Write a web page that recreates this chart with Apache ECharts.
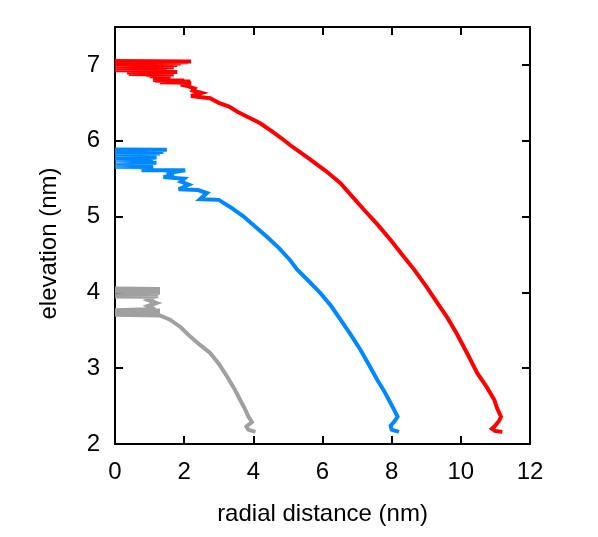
<!DOCTYPE html>
<html>
<head>
<meta charset="utf-8">
<script src="https://cdn.jsdelivr.net/npm/echarts@6/dist/echarts.min.js"></script>
<style>
html,body{margin:0;padding:0;background:#fff;}
#chart{width:598px;height:537px;}
</style>
</head>
<body>
<div id="chart"></div>
<script>
var xTicks = [0, 2, 4, 6, 8, 10, 12];
var yTicks = [2, 3, 4, 5, 6, 7];

var redCurve = [
[0,7.05],[2.2,7.045],[0,7.04],[2.1,7.035],[0,7.03],[1.9,7.02],[0,7.01],[1.8,7.0],[0,6.99],[1.6,6.985],
[0,6.98],[1.7,6.97],[0,6.96],[1.4,6.955],[0,6.95],[1.5,6.945],[0,6.94],[1.3,6.935],[0,6.93],[1.1,6.925],
[0.35,6.91],[1.8,6.905],[0.35,6.9],[1.6,6.89],[0.4,6.88],[1.7,6.875],[0.9,6.87],[1.5,6.86],[1.0,6.85],[1.6,6.84],
[1.1,6.82],[1.5,6.81],[1.1,6.80],[2.0,6.795],[1.15,6.79],[2.17,6.78],[1.3,6.77],[2.2,6.765],[1.9,6.74],[2.1,6.72],
[2.3,6.69],[2.25,6.66],[2.5,6.63],[2.2,6.59],[2.75,6.56],[3.0,6.50],[3.3,6.45],[3.55,6.38],[3.9,6.30],[4.2,6.23],
[4.55,6.12],[4.88,6.01],[5.07,5.94],[5.35,5.85],[5.65,5.75],[6.1,5.60],[6.52,5.44],[6.85,5.27],[7.2,5.09],[7.6,4.89],
[7.97,4.69],[8.3,4.50],[8.65,4.30],[9.0,4.08],[9.32,3.86],[9.62,3.66],[9.9,3.44],[10.2,3.18],[10.48,2.93],[10.75,2.75],
[10.97,2.58],[11.05,2.47],[11.16,2.36],[11.1,2.30],[10.97,2.23],[10.9,2.20],[11.0,2.17],[11.2,2.16]
];

var blueCurve = [
[0,5.885],[1.5,5.88],[0,5.875],[1.3,5.87],[0,5.865],[1.2,5.86],[0,5.855],[1.4,5.85],[0,5.845],[1.1,5.84],
[0,5.835],[1.3,5.83],[0,5.825],[1.0,5.82],[0,5.815],[1.1,5.81],[1.0,5.79],[1.2,5.78],[0.9,5.77],[0,5.765],
[1.05,5.76],[0,5.755],[1.1,5.75],[0,5.745],[1.0,5.74],[0,5.735],[1.1,5.73],[0,5.725],[0.95,5.72],[0,5.715],
[1.2,5.71],[0,5.705],[1.0,5.70],[0,5.695],[1.1,5.69],[0,5.685],[1.0,5.68],[0,5.675],[1.1,5.67],[0,5.665],
[1.05,5.66],[0,5.655],[1.1,5.65],[0.77,5.61],[2.03,5.61],[1.5,5.57],[1.7,5.55],[1.4,5.52],[2.0,5.50],[1.9,5.46],
[2.13,5.42],[1.84,5.36],[2.4,5.35],[2.66,5.31],[2.46,5.23],[3.0,5.22],[3.35,5.12],[3.72,5.0],[4.05,4.87],[4.4,4.73],
[4.75,4.58],[5.07,4.42],[5.27,4.30],[5.6,4.15],[5.94,3.99],[6.25,3.82],[6.52,3.64],[6.82,3.44],[7.10,3.24],[7.35,3.04],
[7.59,2.84],[7.78,2.70],[7.92,2.58],[8.05,2.47],[8.17,2.36],[8.10,2.31],[7.97,2.24],[8.0,2.19],[8.21,2.16]
];

var grayCurve = [
[0,4.05],[1.3,4.045],[0,4.04],[1.2,4.035],[0,4.03],[1.3,4.025],[0,4.02],[1.2,4.015],[0,4.01],[1.3,3.995],
[0,3.985],[1.2,3.98],[0,3.975],[1.25,3.97],[0,3.965],[1.2,3.96],[0,3.955],[1.25,3.95],[0,3.945],[1.15,3.94],
[0.95,3.90],[1.2,3.86],[0.95,3.82],[1.15,3.78],[0,3.765],[1.3,3.76],[0,3.755],[1.2,3.75],[0,3.745],[1.3,3.74],
[0,3.735],[1.2,3.73],[0,3.725],[1.25,3.72],[0,3.715],[1.3,3.71],[0,3.705],[1.3,3.695],[1.59,3.64],[1.9,3.54],
[2.17,3.42],[2.45,3.31],[2.75,3.20],[3.0,3.06],[3.24,2.89],[3.45,2.73],[3.62,2.58],[3.76,2.46],[3.86,2.36],[3.96,2.29],
[3.80,2.23],[3.85,2.19],[4.06,2.16]
];

var xTitle = 'radial distance (nm)';
var yTitle = 'elevation (nm)';

var FONT = '"Liberation Sans", Arial, Helvetica, sans-serif';
var chart = echarts.init(document.getElementById('chart'), null, {renderer: 'canvas'});

function axisCommon(showLabel) {
  return {
    axisLine: {show: true, onZero: false, lineStyle: {color: '#000', width: 2}},
    axisTick: {show: true, inside: true, length: 8, lineStyle: {color: '#000', width: 2}},
    splitLine: {show: false},
    axisLabel: {show: showLabel, color: '#000', fontSize: 24, fontFamily: FONT, showMaxLabel: true}
  };
}

var xMin = xTicks[0], xMax = xTicks[xTicks.length - 1];
var xInt = xTicks[1] - xTicks[0];
var yMin = yTicks[0], yInt = yTicks[1] - yTicks[0];
var yMax = 7.5;

var xb = Object.assign({type: 'value', position: 'bottom', min: xMin, max: xMax, interval: xInt,
  name: xTitle, nameLocation: 'middle', nameGap: 58,
  nameTextStyle: {color: '#000', fontSize: 24, fontFamily: FONT}}, axisCommon(true));
xb.axisLabel.margin = 16;
var xt = Object.assign({type: 'value', position: 'top', min: xMin, max: xMax, interval: xInt}, axisCommon(false));
var yl = Object.assign({type: 'value', position: 'left', min: yMin, max: yMax, interval: yInt,
  name: yTitle, nameLocation: 'middle', nameGap: 54,
  nameTextStyle: {color: '#000', fontSize: 24, fontFamily: FONT, padding: [0, 16, 0, 0]}}, axisCommon(true));
yl.axisLabel.margin = 15;
yl.axisLabel.showMaxLabel = false;
var yr = Object.assign({type: 'value', position: 'right', min: yMin, max: yMax, interval: yInt}, axisCommon(false));

function lineSeries(data, color) {
  return {type: 'line', data: data, xAxisIndex: 0, yAxisIndex: 0, showSymbol: false, symbol: 'none',
    smooth: false, animation: false, lineStyle: {color: color, width: 4, join: 'miter', miterLimit: 4}, itemStyle: {color: color}};
}

chart.setOption({
  animation: false,
  backgroundColor: '#fff',
  grid: {left: 115, right: 68, top: 27, bottom: 93, containLabel: false},
  xAxis: [xb, xt],
  yAxis: [yl, yr],
  series: [
    lineSeries(redCurve, '#ff0000'),
    lineSeries(blueCurve, '#0088ff'),
    lineSeries(grayCurve, '#a0a0a0')
  ]
});
</script>
</body>
</html>
